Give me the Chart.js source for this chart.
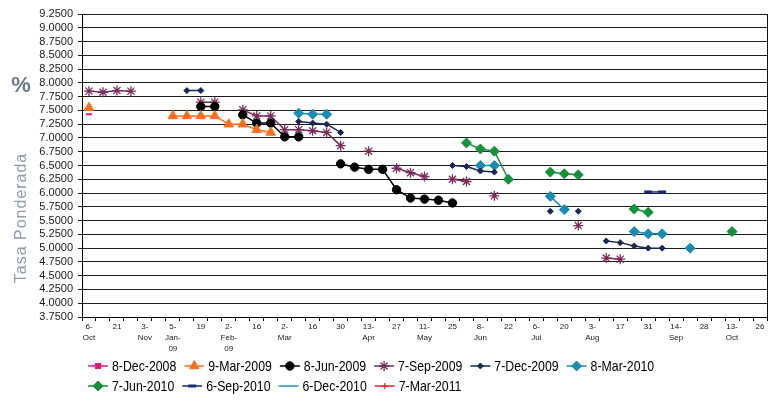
<!DOCTYPE html>
<html>
<head>
<meta charset="utf-8">
<script src="https://cdn.jsdelivr.net/npm/chart.js@4.4.1/dist/chart.umd.min.js"></script>
<style>
  html, body { margin: 0; padding: 0; background: #fff; }
  #wrap { width: 774px; height: 400px; position: relative; }
</style>
</head>
<body>
<div id="wrap"><canvas id="chart"></canvas></div>
<script>
const N = null;

// shown tick labels, one every second week
const tickLabels = [
  ["6-", "Oct"], ["21"], ["3-", "Nov"], ["5-", "Jan-", "09"], ["19"], ["2-", "Feb-", "09"],
  ["16"], ["2-", "Mar"], ["16"], ["30"], ["13-", "Apr"], ["27"], ["11-", "May"], ["25"],
  ["8-", "Jun"], ["22"], ["6-", "Jul"], ["20"], ["3-", "Aug"], ["17"], ["31"], ["14-", "Sep"],
  ["28"], ["13-", "Oct"], ["26"]
];
// weekly categories: labelled week, then an unlabelled one
const categories = tickLabels.flatMap((t, i) => i < tickLabels.length - 1 ? [t, ""] : [t]);

const seriesNames = ["8-Dec-2008", "9-Mar-2009", "8-Jun-2009", "7-Sep-2009", "7-Dec-2009",
  "8-Mar-2010", "7-Jun-2010", "6-Sep-2010", "6-Dec-2010", "7-Mar-2011"];

const dec2008 = [7.43];
const mar2009 = [
  7.55, N, N, N, N, N, 7.40, 7.40, 7.40, 7.40,
  7.25, 7.25, 7.15, 7.10
];
const jun2009 = [
  N, N, N, N, N, N, N, N, 7.57, 7.57,
  N, 7.42, 7.27, 7.27, 7.02, 7.02, N, N, 6.53, 6.47,
  6.43, 6.43, 6.06, 5.91, 5.89, 5.87, 5.82
];
const sep2009 = [
  7.85, 7.83, 7.86, 7.85, N, N, N, N, 7.65, 7.65,
  N, 7.51, 7.40, 7.40, 7.15, 7.15, 7.13, 7.10, 6.86, N,
  6.76, N, 6.45, 6.37, 6.30, N, 6.25, 6.21, N, 5.95,
  N, N, N, N, N, 5.41, N, 4.82, 4.80
];
const dec2009 = [
  N, N, N, N, N, N, N, 7.86, 7.86, N,
  N, N, N, N, N, 7.30, 7.27, 7.25, 7.10, N,
  N, N, N, N, N, N, 6.50, 6.48, 6.40, 6.38,
  N, N, N, 5.67, N, 5.67, N, 5.13, 5.10, 5.04,
  5.00, 5.00
];
const mar2010 = [
  N, N, N, N, N, N, N, N, N, N,
  N, N, N, N, N, 7.45, 7.43, 7.43, N, N,
  N, N, N, N, N, N, N, N, 6.50, 6.50,
  N, N, N, 5.94, 5.70, N, N, N, N, 5.30,
  5.26, 5.26, N, 5.00
];
const jun2010 = [
  N, N, N, N, N, N, N, N, N, N,
  N, N, N, N, N, N, N, N, N, N,
  N, N, N, N, N, N, N, 6.91, 6.80, 6.76,
  6.25, N, N, 6.38, 6.35, 6.33, N, N, N, 5.71,
  5.65, N, N, N, N, N, 5.30
];
const sep2010 = [
  N, N, N, N, N, N, N, N, N, N,
  N, N, N, N, N, N, N, N, N, N,
  N, N, N, N, N, N, N, N, N, N,
  N, N, N, N, N, N, N, N, N, N,
  6.02, 6.02
];
const dec2010 = [];
const mar2011 = [];

const FONT = '"Liberation Sans", Arial, sans-serif';
const legendRows = [[0, 1, 2, 3, 4, 5], [6, 7, 8, 9]];

function serie(i, data, color, style, radius, bw, legendStyle) {
  return {
    label: seriesNames[i],
    data: data,
    borderColor: color,
    backgroundColor: color,
    borderWidth: 1.5,
    pointStyle: style,
    pointRadius: style ? radius : 0,
    pointBackgroundColor: color,
    pointBorderColor: color,
    pointBorderWidth: bw,
    legendStyle: legendStyle || style,
    legendRadius: radius,
    tension: 0,
    spanGaps: false
  };
}

const decorPlugin = {
  id: "decor",
  afterDraw(chart) {
    const ctx = chart.ctx;
    const a = chart.chartArea;
    ctx.save();
    // right frame line
    ctx.strokeStyle = "#111";
    ctx.lineWidth = 1;
    ctx.beginPath();
    ctx.moveTo(Math.round(a.right) + 0.5, a.top);
    ctx.lineTo(Math.round(a.right) + 0.5, a.bottom);
    ctx.stroke();

    // "%" and axis title
    ctx.fillStyle = "#6b7a8e";
    ctx.font = "bold 22px " + FONT;
    ctx.textAlign = "center";
    ctx.textBaseline = "middle";
    ctx.fillText("%", 21, 86);

    ctx.save();
    ctx.translate(22, 218);
    ctx.rotate(-Math.PI / 2);
    ctx.fillStyle = "#8e9db0";
    ctx.font = "16px " + FONT;
    ctx.letterSpacing = "1px";
    ctx.fillText("Tasa Ponderada", 0, 0);
    ctx.restore();

    // legend, two rows, condensed text
    ctx.font = "15px " + FONT;
    ctx.textAlign = "left";
    const squeeze = 0.82;
    const drawPoint = Chart.helpers && Chart.helpers.drawPoint;
    legendRows.forEach((row, r) => {
      let x = 88;
      const y = 366 + r * 20;
      row.forEach(i => {
        const ds = chart.data.datasets[i];
        ctx.strokeStyle = ds.borderColor;
        ctx.fillStyle = ds.borderColor;
        ctx.lineWidth = 1.5;
        ctx.beginPath();
        ctx.moveTo(x, y);
        ctx.lineTo(x + 20, y);
        ctx.stroke();
        if (ds.legendStyle && drawPoint) {
          ctx.lineWidth = ds.pointBorderWidth;
          drawPoint(ctx, { pointStyle: ds.legendStyle, radius: ds.legendRadius, rotation: 0, borderWidth: ds.pointBorderWidth }, x + 10, y);
        }
        ctx.fillStyle = "#000";
        ctx.save();
        ctx.translate(x + 24, y + 1);
        ctx.scale(squeeze, 1);
        ctx.fillText(ds.label, 0, 0);
        ctx.restore();
        x += 24 + ctx.measureText(ds.label).width * squeeze + 8;
      });
    });
    ctx.restore();
  }
};

new Chart(document.getElementById("chart"), {
  type: "line",
  data: {
    labels: categories,
    datasets: [
      serie(0, dec2008, "#e5177e", "line", 3, 2, "rect"),
      serie(1, mar2009, "#ff6e1c", "triangle", 5.5, 1),
      serie(2, jun2009, "#000000", "circle", 4.2, 1),
      serie(3, sep2009, "#7c2b5c", "star", 5, 1.3),
      serie(4, dec2009, "#1b2757", "rectRot", 3, 1),
      serie(5, mar2010, "#1b8db2", "rectRot", 5, 1),
      serie(6, jun2010, "#14913a", "rectRot", 5, 1),
      serie(7, sep2010, "#1c2a78", "line", 4, 3),
      serie(8, dec2010, "#2b8ad4", false, 0, 1),
      serie(9, mar2011, "#e3202a", "cross", 3, 1.2)
    ]
  },
  options: {
    responsive: true,
    maintainAspectRatio: false,
    animation: false,
    layout: { padding: { top: 14, right: 5, bottom: 43, left: 0 } },
    plugins: {
      legend: { display: false },
      tooltip: { enabled: false }
    },
    scales: {
      x: {
        type: "category",
        offset: true,
        afterFit: (s) => { s.height = 40; },
        grid: { display: true, offset: true, drawOnChartArea: false, drawTicks: true, tickLength: 4, color: "#000" },
        border: { display: true, color: "#000", width: 1 },
        ticks: {
          autoSkip: false,
          maxRotation: 0,
          minRotation: 0,
          padding: 0,
          color: "#1a1a1a",
          font: { family: FONT, size: 8, lineHeight: 1.38 }
        }
      },
      y: {
        min: 3.75,
        max: 9.25,
        afterFit: (s) => { s.width = 82; },
        grid: { color: "#1e1e1e", lineWidth: 1, tickLength: 4 },
        border: { display: true, color: "#000", width: 1 },
        ticks: {
          stepSize: 0.25,
          maxTicksLimit: 40,
          autoSkip: false,
          padding: 5,
          color: "#1a1a1a",
          font: { family: FONT, size: 11 },
          callback: (v) => Number(v).toFixed(4)
        }
      }
    }
  },
  plugins: [decorPlugin]
});
</script>
</body>
</html>
